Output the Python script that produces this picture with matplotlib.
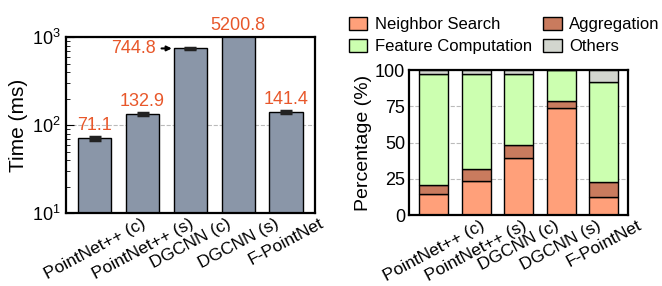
import numpy as np
import matplotlib
matplotlib.use("Agg")
from matplotlib import pyplot as plt
from matplotlib.patches import Patch

plt.rcParams['font.family'] = ['Liberation Sans', 'DejaVu Sans']
plt.rcParams['mathtext.fontset'] = 'custom'
plt.rcParams['mathtext.rm'] = 'Liberation Sans'

models = ["PointNet++ (c)", "PointNet++ (s)", "DGCNN (c)", "DGCNN (s)", "F-PointNet"]
time_ms = [71.1, 132.9, 744.8, 5200.8, 141.4]
time_err = [3, 4, 12, 0, 5]

neighbor = [14.5, 23.5, 39.5, 74, 12.5]
aggregation = [6, 8, 9, 5, 10.5]
feature = [76.5, 66, 48.5, 21, 69]
others = [3, 2.5, 3, 0, 8]

bar_grey = "#8a96a8"
lab_red = "#e8572a"
c_ns = "#ffa07a"
c_agg = "#c97b5e"
c_fc = "#ccffb0"
c_oth = "#d3d6cf"

fig = plt.figure(figsize=(6.62, 2.86), dpi=100)
ax1 = fig.add_axes([0.0997, 0.255, 0.376, 0.615])
ax2 = fig.add_axes([0.618, 0.248, 0.331, 0.507])

x = np.arange(len(models))

# left: time
ax1.bar(x, time_ms, width=0.7, color=bar_grey, edgecolor="black", linewidth=1, zorder=2)
ax1.errorbar(x, time_ms, yerr=time_err, fmt="none", ecolor="#222222", elinewidth=1.5,
             capsize=4, capthick=2.5, zorder=3)
ax1.set_yscale("log")
ax1.set_ylim(10, 1000)
ax1.set_xlim(-0.6, 4.6)
ax1.set_ylabel("Time (ms)", fontsize=15, labelpad=3)
ax1.yaxis.grid(True, which="major", linestyle="--", color="#bbbbbb", linewidth=0.8, zorder=0)
ax1.set_xticks(x)
ax1.set_xticklabels(models, rotation=28, fontsize=12.5)
ax1.tick_params(axis="x", length=0, pad=2)
ax1.tick_params(axis="y", which="major", direction="in", length=6, labelsize=13, right=False, pad=4)
ax1.tick_params(axis="y", which="minor", direction="in", length=3)
for s in ax1.spines.values():
    s.set_linewidth(1.6)

for i, v in enumerate(time_ms):
    label = "%.1f" % v
    if i == 2:
        ax1.annotate(label, xy=(i - 0.39, v), xytext=(i - 0.72, v), ha="right", va="center",
                     fontsize=13, color=lab_red,
                     arrowprops=dict(arrowstyle="-|>", color="black", lw=1.5, mutation_scale=7,
                                     shrinkA=2, shrinkB=0))
    elif i == 3:
        ax1.annotate(label, xy=(i, 1000), xytext=(0, 2), textcoords="offset points",
                     ha="center", va="bottom", fontsize=13, color=lab_red, annotation_clip=False)
    else:
        ax1.annotate(label, xy=(i, v), xytext=(0, 3), textcoords="offset points",
                     ha="center", va="bottom", fontsize=13, color=lab_red)

# right: breakdown
b1 = np.array(neighbor)
b2 = b1 + np.array(aggregation)
b3 = b2 + np.array(feature)
ax2.bar(x, neighbor, width=0.68, color=c_ns, edgecolor="black", linewidth=1, zorder=2)
ax2.bar(x, aggregation, width=0.68, bottom=b1, color=c_agg, edgecolor="black", linewidth=1, zorder=2)
ax2.bar(x, feature, width=0.68, bottom=b2, color=c_fc, edgecolor="black", linewidth=1, zorder=2)
ax2.bar(x, others, width=0.68, bottom=b3, color=c_oth, edgecolor="black", linewidth=1, zorder=2)
ax2.set_ylim(0, 100)
ax2.set_xlim(-0.58, 4.58)
ax2.set_yticks([0, 25, 50, 75, 100])
ax2.set_ylabel("Percentage (%)", fontsize=14, labelpad=2)
ax2.yaxis.grid(True, linestyle="--", color="#bbbbbb", linewidth=0.8, zorder=0)
ax2.set_xticks(x)
ax2.set_xticklabels(models, rotation=28, fontsize=12.5)
ax2.tick_params(axis="x", length=0, pad=2)
ax2.tick_params(axis="y", length=0, labelsize=13, pad=3)
for s in ax2.spines.values():
    s.set_linewidth(1.6)

handles = [Patch(facecolor=c_ns, edgecolor="black", label="Neighbor Search"),
           Patch(facecolor=c_fc, edgecolor="black", label="Feature Computation"),
           Patch(facecolor=c_agg, edgecolor="black", label="Aggregation"),
           Patch(facecolor=c_oth, edgecolor="black", label="Others")]
fig.legend(handles=handles, ncol=2, loc="upper left", bbox_to_anchor=(0.527, 0.94),
           frameon=False, fontsize=12, handlelength=1.1, handleheight=0.8,
           handletextpad=0.45, columnspacing=0.7, labelspacing=0.4, borderaxespad=0,
           borderpad=0)

fig.savefig("out.png", dpi=100)
